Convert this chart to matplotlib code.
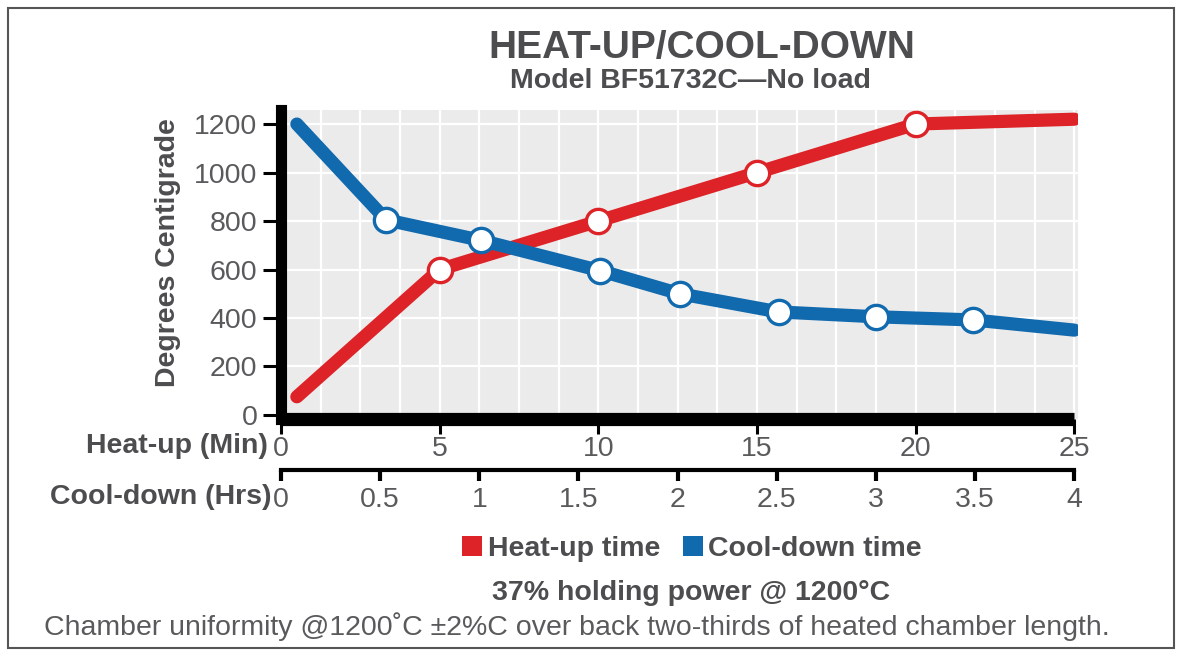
import numpy as np
import matplotlib
matplotlib.use('Agg')
import matplotlib.pyplot as plt
from matplotlib.patches import Patch, Rectangle

# heat-up curve (minutes, deg C)
heat_min = [0.5, 5, 10, 15, 20, 25]
heat_temp = [75, 600, 800, 1000, 1200, 1220]
heat_marker = [False, True, True, True, True, False]

# cool-down curve (hours, deg C)
cool_hrs = [0.08, 0.53, 1.01, 1.61, 2.01, 2.51, 3.0, 3.49, 4.0]
cool_temp = [1200, 805, 720, 595, 500, 425, 405, 392, 350]
cool_marker = [False, True, True, True, True, True, True, True, False]

yticks = [0, 200, 400, 600, 800, 1000, 1200]
heat_ticks = [0, 5, 10, 15, 20, 25]
cool_ticks = [0, 0.5, 1, 1.5, 2, 2.5, 3, 3.5, 4]
cool_labels = ['0', '0.5', '1', '1.5', '2', '2.5', '3', '3.5', '4']

RED = '#dd2327'
BLUE = '#1169ae'
DARK = '#4d4d4f'
TICKC = '#5a5a5c'
FS = 20.5

plt.rcParams['font.family'] = ['Liberation Sans', 'DejaVu Sans']

W, H = 1182, 656
fig = plt.figure(figsize=(W / 100, H / 100), dpi=100)
XMAX = 25.1

ax = fig.add_axes([281 / W, 1 - 418.6 / H, 796.5 / W, 308.6 / H])
ax.set_facecolor('#ebebeb')
ax.set_xlim(0, XMAX)
ax.set_ylim(-15, 1258)

# grid
for gx in np.arange(1.25, XMAX, 1.25):
    ax.axvline(gx, color='white', lw=1.6, zorder=0.5)
for gy in yticks[1:]:
    ax.axhline(gy, color='white', lw=1.6, zorder=0.5)

for s in ['top', 'right']:
    ax.spines[s].set_visible(False)
ax.spines['left'].set_linewidth(8)
ax.spines['bottom'].set_linewidth(9.5)
ax.spines['bottom'].set_bounds(0, 25)
ax.spines['bottom'].set_capstyle('butt')

ax.set_yticks(yticks)
ax.set_yticklabels([str(v) for v in yticks])
ax.set_xticks(heat_ticks)
ax.set_xticklabels([str(v) for v in heat_ticks])
ax.tick_params(axis='y', length=13, width=2.2, color='black', pad=4,
               labelsize=FS, labelcolor=TICKC)
ax.tick_params(axis='x', length=11, width=2.2, color='black', pad=1.5,
               labelsize=FS, labelcolor=TICKC)

hm = np.array(heat_marker)
ax.plot(heat_min, heat_temp, color=RED, lw=9.5, solid_capstyle='round',
        solid_joinstyle='round', zorder=3)
ax.plot(np.array(heat_min)[hm], np.array(heat_temp)[hm], 'o', ms=17.5,
        mfc='white', mec=RED, mew=2.4, zorder=4)

# cool-down axis
ax2 = ax.twiny()
ax2.set_xlim(0, 4 * XMAX / 25)
ax2.patch.set_visible(False)
for s in ['top', 'right', 'left']:
    ax2.spines[s].set_visible(False)
ax2.xaxis.set_ticks_position('bottom')
ax2.xaxis.set_label_position('bottom')
ax2.spines['bottom'].set_visible(True)
ax2.spines['bottom'].set_position(('outward', 36.7))
ax2.spines['bottom'].set_linewidth(3)
ax2.spines['bottom'].set_bounds(0, 4)
ax2.set_xticks(cool_ticks)
ax2.set_xticklabels(cool_labels)
ax2.tick_params(axis='x', length=8, width=3, color='black', pad=4.5,
                labelsize=FS, labelcolor=TICKC)

cm = np.array(cool_marker)
ax2.plot(cool_hrs, cool_temp, color=BLUE, lw=9.5, solid_capstyle='round',
         solid_joinstyle='round', zorder=5)
ax2.plot(np.array(cool_hrs)[cm], np.array(cool_temp)[cm], 'o', ms=17.5,
         mfc='white', mec=BLUE, mew=2.4, zorder=6)

# texts
fig.text(702 / W, 1 - 48 / H, 'HEAT-UP/COOL-DOWN', ha='center', va='center',
         fontsize=28, fontweight='bold', color=DARK)
fig.text(690 / W, 1 - 81 / H, 'Model BF51732C\u2014No load', ha='center',
         va='center', fontsize=FS, fontweight='bold', color=DARK)
fig.text(168 / W, 1 - 253 / H, 'Degrees Centigrade', ha='center', va='center',
         rotation=90, fontsize=FS, fontweight='bold', color=DARK)
fig.text(268 / W, 1 - 446 / H, 'Heat-up (Min)', ha='right', va='center',
         fontsize=FS, fontweight='bold', color=DARK)
fig.text(272 / W, 1 - 497 / H, 'Cool-down (Hrs)', ha='right', va='center',
         fontsize=FS, fontweight='bold', color=DARK)

handles = [Patch(facecolor=RED, edgecolor='none', label='Heat-up time'),
           Patch(facecolor=BLUE, edgecolor='none', label='Cool-down time')]
fig.legend(handles=handles, loc='center', bbox_to_anchor=(692 / W, 1 - 549 / H),
           ncol=2, frameon=False, handlelength=0.7, handleheight=0.7,
           handletextpad=0.2, columnspacing=0.8,
           prop={'size': FS, 'weight': 'bold'}, labelcolor=DARK)

fig.text(691 / W, 1 - 593 / H, '37% holding power @ 1200\u00b0C', ha='center',
         va='center', fontsize=FS, fontweight='bold', color=DARK)
fig.text(577 / W, 1 - 627 / H,
         'Chamber uniformity @1200\u02daC \u00b12%C over back two-thirds of heated chamber length.',
         ha='center', va='center', fontsize=20.5, color=TICKC)

fig.patches.append(Rectangle((8 / W, 8 / H), 1 - 16 / W, 1 - 16 / H,
                             transform=fig.transFigure, fill=False,
                             edgecolor='#555555', lw=1.5))

fig.savefig('out.png', dpi=100)
